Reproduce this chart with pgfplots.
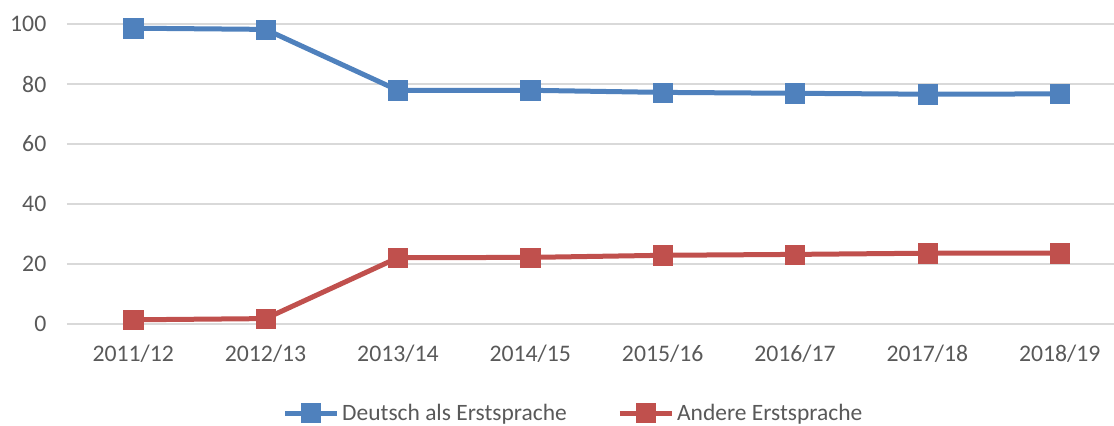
\documentclass[border=0pt]{standalone}
\usepackage{fontspec}
\setmainfont{Carlito}
\usepackage{pgfplots}
\pgfplotsset{compat=1.18}
\definecolor{serblue}{HTML}{4F81BD}
\definecolor{serred}{HTML}{C0504D}
\definecolor{txtgray}{HTML}{595959}
\definecolor{gridgray}{HTML}{D9D9D9}
\begin{document}
\begin{tikzpicture}
\useasboundingbox (0,0) rectangle (835.5pt,318.75pt);
\begin{axis}[
    at={(50.25pt,75.75pt)}, anchor=south west,
    scale only axis,
    width=785.25pt, height=225pt,
    xmin=-0.5, xmax=7.41,
    ymin=0, ymax=100,
    ytick={0,20,40,60,80,100},
    xtick={0,...,7},
    xticklabels={2011/12,2012/13,2013/14,2014/15,2015/16,2016/17,2017/18,2018/19},
    axis line style={draw=none},
    major tick length=0pt,
    ymajorgrids,
    grid style={gridgray, line width=1.2pt},
    tick label style={font=\fontsize{17.8pt}{21pt}\selectfont, text=txtgray},
    /pgf/number format/assume math mode=true,
    yticklabel style={xshift=-12pt},
    xticklabel style={yshift=-12pt},
    clip=false,
    legend style={
        at={(0.484,-0.297)}, anchor=center,
        draw=none, fill=none,
        legend columns=2,
        font=\fontsize{17.6pt}{21pt}\selectfont, text=txtgray,
        /tikz/every even column/.append style={column sep=36pt},
        inner sep=0pt,
    },
    legend image code/.code={
        \draw[#1, mark options={solid}] (0pt,0pt) -- (39pt,0pt);
        \draw[#1, only marks] plot coordinates {(19.5pt,0pt)};
    },
]
\addplot[serblue, line width=3.75pt, mark=square*, mark size=7.2pt, mark options={line width=0.4pt}]
coordinates {
    (0, 98.6) (1, 98.2) (2, 77.9) (3, 77.9) (4, 77.2) (5, 76.9) (6, 76.6) (7, 76.7)
};
\addlegendentry{Deutsch als Erstsprache}
\addplot[serred, line width=3.75pt, mark=square*, mark size=7.2pt, mark options={line width=0.4pt}]
coordinates {
    (0, 1.4) (1, 1.8) (2, 22.1) (3, 22.2) (4, 22.9) (5, 23.2) (6, 23.6) (7, 23.6)
};
\addlegendentry{Andere Erstsprache}
\end{axis}
\end{tikzpicture}
\end{document}
